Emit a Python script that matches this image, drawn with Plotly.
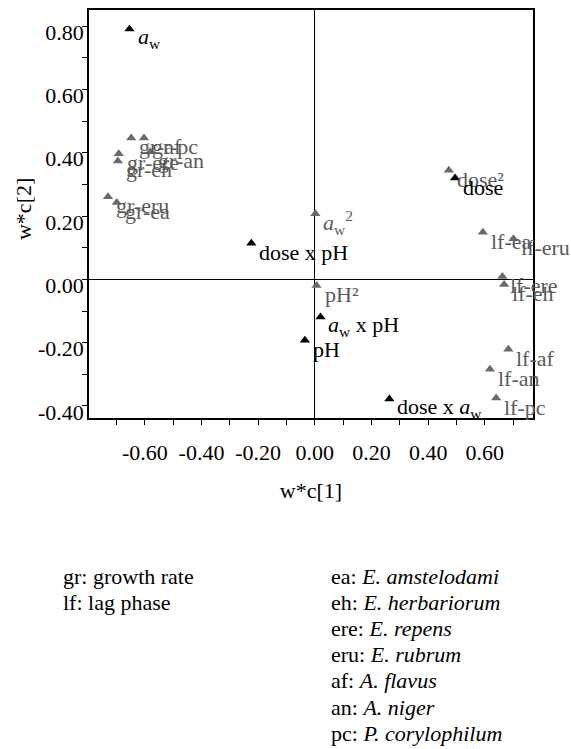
import plotly.graph_objects as go

# ---- data ----
# main model terms (black markers)
term_labels = ["<i>a</i><sub>w</sub>", "dose", "dose x pH", "pH",
               "<i>a</i><sub>w</sub> x pH", "dose x <i>a</i><sub>w</sub>"]
term_x = [-0.654, 0.495, -0.224, -0.035, 0.020, 0.263]
term_y = [0.791, 0.320, 0.114, -0.192, -0.119, -0.378]

# squared terms and responses (grey markers)
grey_labels = ["<i>a</i><sub>w</sub><sup>2</sup>", "pH²", "dose²",
               "gr-af", "gr-pc", "gr-ere", "gr-eh", "gr-an", "gr-eru", "gr-ea",
               "lf-ea", "lf-eru", "lf-ere", "lf-eh", "lf-af", "lf-an", "lf-pc"]
grey_x = [0.002, 0.006, 0.473,
          -0.648, -0.603, -0.692, -0.695, -0.581, -0.730, -0.699,
          0.593, 0.701, 0.662, 0.668, 0.683, 0.618, 0.640]
grey_y = [0.207, -0.019, 0.345,
          0.447, 0.447, 0.397, 0.374, 0.403, 0.261, 0.243,
          0.149, 0.128, 0.009, -0.016, -0.221, -0.284, -0.375]

x_tickvals = [-0.6, -0.4, -0.2, 0.0, 0.2, 0.4, 0.6]
x_ticktext = ["-0.60", "-0.40", "-0.20", "0.00", "0.20", "0.40", "0.60"]
y_tickvals = [-0.4, -0.2, 0.0, 0.2, 0.4, 0.6, 0.8]
y_ticktext = ["-0.40", "-0.20", "0.00", "0.20", "0.40", "0.60", "0.80"]

x_title = "w*c[1]"
y_title = "w*c[2]"

legend_left = ["gr: growth rate", "lf: lag phase"]
legend_right = ["ea: <i>E. amstelodami</i>", "eh: <i>E. herbariorum</i>",
                "ere: <i>E. repens</i>", "eru: <i>E. rubrum</i>",
                "af: <i>A. flavus</i>", "an: <i>A. niger</i>",
                "pc: <i>P. corylophilum</i>"]

FONT = "Liberation Serif"
BLACK = "#000000"
GREY_M = "#6a6a6a"
GREY_T = "#5a5a5a"

W, H = 571, 749
ML, MR, MT, MB = 89, 38, 8, 331
PW, PH = W - ML - MR, H - MT - MB

def paper_x(p):
    return (p - ML) / PW

def paper_y(p):
    return (H - MB - p) / PH

fig = go.Figure()
fig.add_trace(go.Scatter(x=grey_x, y=grey_y, mode="markers",
                         marker=dict(symbol="triangle-up", size=9, color=GREY_M),
                         hoverinfo="skip", showlegend=False))
fig.add_trace(go.Scatter(x=term_x, y=term_y, mode="markers",
                         marker=dict(symbol="triangle-up", size=9, color=BLACK),
                         hoverinfo="skip", showlegend=False))

annotations = []
for lab, xv, yv in zip(grey_labels, grey_x, grey_y):
    annotations.append(dict(x=xv, y=yv, xref="x", yref="y", text=lab,
                            showarrow=False, xanchor="left", yanchor="middle",
                            xshift=6, yshift=-9,
                            font=dict(family=FONT, size=22, color=GREY_T)))
for lab, xv, yv in zip(term_labels, term_x, term_y):
    annotations.append(dict(x=xv, y=yv, xref="x", yref="y", text=lab,
                            showarrow=False, xanchor="left", yanchor="middle",
                            xshift=6, yshift=-9,
                            font=dict(family=FONT, size=22, color=BLACK)))

for i, t in enumerate(legend_left):
    annotations.append(dict(x=paper_x(61), y=paper_y(577 + i * 26.3),
                            xref="paper", yref="paper",
                            text=t, showarrow=False, xanchor="left", yanchor="middle",
                            font=dict(family=FONT, size=22, color=BLACK)))
for i, t in enumerate(legend_right):
    annotations.append(dict(x=paper_x(329), y=paper_y(577 + i * 26.3),
                            xref="paper", yref="paper",
                            text=t, showarrow=False, xanchor="left", yanchor="middle",
                            font=dict(family=FONT, size=22, color=BLACK)))

# y-axis title (rotated)
annotations.append(dict(x=paper_x(23), y=paper_y(208), xref="paper", yref="paper",
                        text=y_title, textangle=-90, showarrow=False,
                        xanchor="center", yanchor="middle",
                        font=dict(family=FONT, size=22, color=BLACK)))

axis_common = dict(
    showline=True, mirror=True, linecolor=BLACK, linewidth=1.5,
    showgrid=False, zeroline=True, zerolinecolor=BLACK, zerolinewidth=1.3,
    ticks="outside", ticklen=5, tickwidth=1.2, tickcolor=BLACK,
    minor=dict(dtick=0.1, tick0=0, ticks="outside", ticklen=5,
               tickwidth=1.2, tickcolor=BLACK, showgrid=False),
    tickfont=dict(family=FONT, size=22, color=BLACK),
)

fig.update_layout(
    width=W, height=H,
    margin=dict(l=ML, r=MR, t=MT, b=MB),
    paper_bgcolor="white", plot_bgcolor="white",
    font=dict(family=FONT, size=22, color=BLACK),
    xaxis=dict(range=[-0.797, 0.770], tickvals=x_tickvals, ticktext=x_ticktext,
               ticklabelstandoff=9,
               title=dict(text=x_title, standoff=18,
                          font=dict(family=FONT, size=22, color=BLACK)),
               **axis_common),
    yaxis=dict(range=[-0.438, 0.851], tickvals=y_tickvals, ticktext=y_ticktext,
               ticklabelshift=6, ticklabelstandoff=-6,
               **axis_common),
    annotations=annotations,
)

fig.write_html("out.html")
